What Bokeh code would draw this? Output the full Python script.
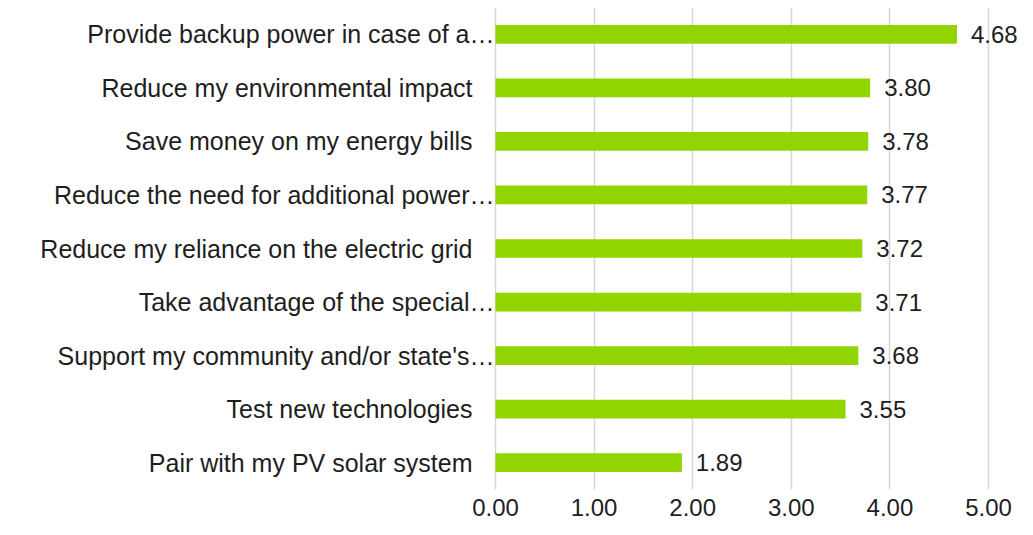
from bokeh.plotting import figure
from bokeh.models import (ColumnDataSource, FactorRange, Range1d, FixedTicker,
                          PrintfTickFormatter, LabelSet)
from bokeh.core.properties import value
from bokeh.embed import file_html
from bokeh.resources import INLINE

# ---- data (top to bottom as shown) ----
categories = [
    "Provide backup power in case of a\u2026",
    "Reduce my environmental impact",
    "Save money on my energy bills",
    "Reduce the need for additional power\u2026",
    "Reduce my reliance on the electric grid",
    "Take advantage of the special\u2026",
    "Support my community and/or state's\u2026",
    "Test new technologies",
    "Pair with my PV solar system",
]
values = [4.68, 3.80, 3.78, 3.77, 3.72, 3.71, 3.68, 3.55, 1.89]
x_ticks = [0, 1, 2, 3, 4, 5]

# ---- layout / style ----
FONT = "Liberation Sans"
TXT = "#1e1e1e"
BAR = "#92D400"
W, H = 1017, 519
X0_PX, X5_PX = 495, 988          # where 0 and 5 fall horizontally
upp = (x_ticks[-1] - x_ticks[0]) / (X5_PX - X0_PX)
x_start = x_ticks[0] - X0_PX * upp
x_end = x_ticks[-1] + (W - X5_PX) * upp

value_text = ["%.2f" % v for v in values]
# truncated labels sit right against the axis, full labels are set back
cat_offset = [-1 if c.endswith("\u2026") else -23 for c in categories]

src = ColumnDataSource(dict(cat=categories, val=values, vtxt=value_text,
                            zero=[0] * len(values), coff=cat_offset))

p = figure(width=W, height=H,
           y_range=FactorRange(factors=list(reversed(categories)), range_padding=0),
           x_range=Range1d(x_start, x_end),
           output_backend="svg", toolbar_location=None,
           min_border_left=0, min_border_right=0,
           min_border_top=7, min_border_bottom=30)

p.hbar(y="cat", right="val", left=0, height=0.35, source=src,
       fill_color=BAR, line_color=None)

# value labels
p.add_layout(LabelSet(x="val", y="cat", text="vtxt", source=src,
                      x_offset=14, text_align="left", text_baseline="middle",
                      text_font=value(FONT), text_font_size="24px", text_color=TXT))
# category labels
p.add_layout(LabelSet(x="zero", y="cat", text="cat", source=src,
                      x_offset="coff", text_align="right", text_baseline="middle",
                      text_font=value(FONT), text_font_size="25px", text_color=TXT))

p.yaxis.visible = False
p.ygrid.grid_line_color = None

p.xaxis.ticker = FixedTicker(ticks=x_ticks)
p.xaxis.formatter = PrintfTickFormatter(format="%.2f")
p.xaxis.axis_line_color = None
p.xaxis.major_tick_line_color = None
p.xaxis.minor_tick_line_color = None
p.xaxis.major_label_standoff = 3
p.xaxis.major_label_text_font = FONT
p.xaxis.major_label_text_font_size = "24px"
p.xaxis.major_label_text_color = TXT

p.xgrid.ticker = FixedTicker(ticks=x_ticks)
p.xgrid.grid_line_color = "#d6d6d6"
p.xgrid.grid_line_width = 1.5

p.outline_line_color = None
p.background_fill_color = "white"
p.border_fill_color = "white"

open("out.html", "w").write(file_html(p, INLINE))
